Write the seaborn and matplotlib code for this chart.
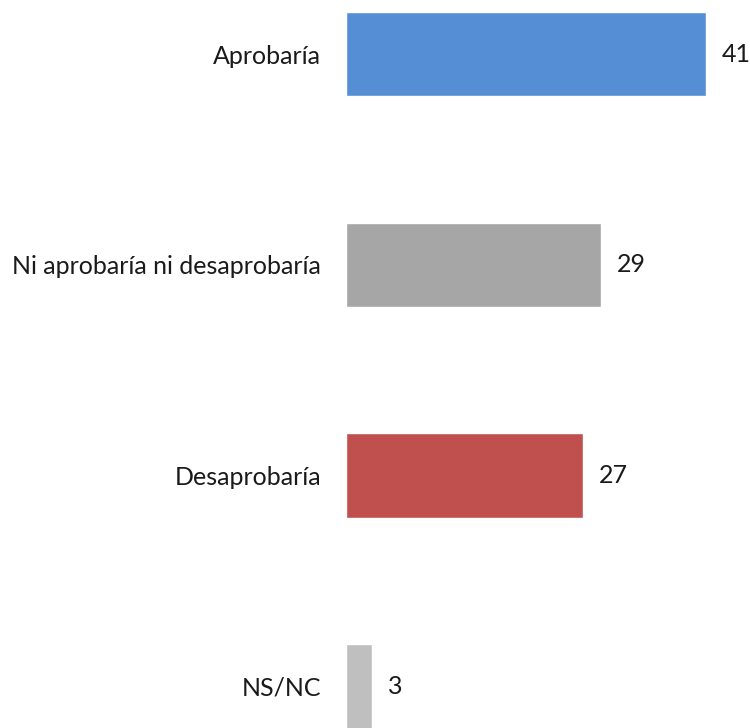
import matplotlib
matplotlib.use("Agg")
import matplotlib.pyplot as plt
import seaborn as sns
import pandas as pd

categories = ["Aprobaría", "Ni aprobaría ni desaprobaría", "Desaprobaría", "NS/NC"]
values = [41, 29, 27, 3]
colors = ["#558ED5", "#A6A6A6", "#C0504D", "#BFBFBF"]

sns.set_theme(style="white")
plt.rcParams["font.family"] = ["Lato", "DejaVu Sans"]

df = pd.DataFrame({"cat": categories, "val": values})

fig = plt.figure(figsize=(7.5, 7.28), dpi=100)
ax = fig.add_axes([346 / 750, 0, (750 - 346) / 750, 1])
sns.barplot(data=df, x="val", y="cat", hue="cat", palette=colors, legend=False,
            width=0.4, ax=ax, saturation=1)

ax.set_xlim(0, (750 - 346) / 8.78)
ax.set_ylim((728 - 54) / 210.8, -54 / 210.8)
for s in ax.spines.values():
    s.set_visible(False)
ax.set_xticks([])
ax.set_ylabel("")
ax.set_xlabel("")
ax.tick_params(axis="y", length=0, pad=18, labelsize=18, labelcolor="#1a1a1a")

for i, v in enumerate(values):
    ax.annotate(str(v), xy=(v, i), xytext=(16, 0), textcoords="offset pixels",
                va="center", ha="left", fontsize=18, color="#1a1a1a")

fig.savefig("out.png", dpi=100)
